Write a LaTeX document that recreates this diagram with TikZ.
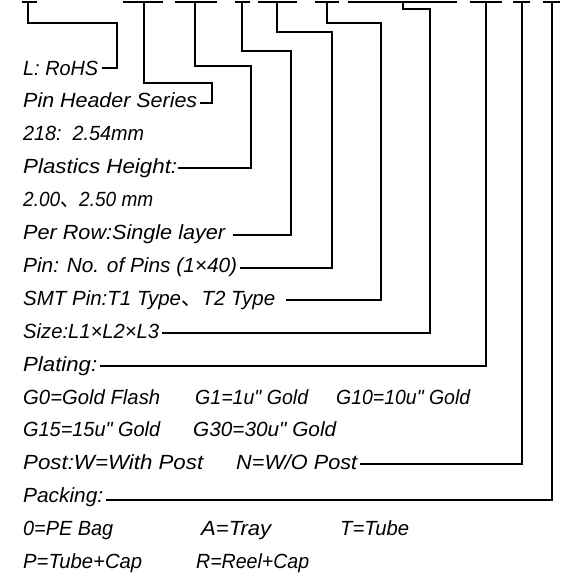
\documentclass[tikz,border=0pt]{standalone}
\usepackage{fontspec}
\usepackage{graphicx}
\newfontfamily\isofont{Liberation Sans}
\newfontfamily\cjk{Noto Sans CJK SC}
\newcommand{\lblfont}{\isofont\itshape\fontsize{20.5}{22}\selectfont}
\newcommand{\fw}[2]{\resizebox{#1pt}{\height}{#2}}
\begin{document}
\begin{tikzpicture}[x=1pt,y=-1pt,
  lbl/.style={anchor=base west, inner sep=0pt, font=\lblfont},
  wire/.style={line width=1.8pt, line join=miter, line cap=butt},
]
\useasboundingbox (0,0) rectangle (580,574);
% ---- texts
\node[lbl] (t0) at (23,75) {\fw{75}{L: RoHS}};
\node[lbl] (t1) at (23,107.9) {\fw{174}{Pin Header Series}};
\node[lbl] (t2) at (23,140.8) {\fw{121}{218:\ \ 2.54mm}};
\node[lbl] (t3) at (23,173.7) {\fw{154}{Plastics Height:}};
\node[lbl] (t4) at (23,206.6) {\fw{130}{2.00{\cjk 、}2.50 mm}};
\node[lbl] (t5) at (23,239.5) {\fw{202}{Per Row:Single layer}};
\node[lbl] (t6) at (23,272.4) {\fw{214}{Pin: No. of Pins (1×40)}};
\node[lbl] (t7) at (23,305.3) {\fw{252}{SMT Pin:T1 Type{\cjk 、}T2 Type}};
\node[lbl] (t8) at (23,338.2) {\fw{136}{Size:L1×L2×L3}};
\node[lbl] (t9) at (23,371.1) {\fw{74}{Plating:}};
\node[lbl] (t10a) at (23,404) {\fw{137}{G0=Gold Flash}};
\node[lbl] (t10b) at (195,404) {\fw{113}{G1=1u" Gold}};
\node[lbl] (t10c) at (336,404) {\fw{134}{G10=10u" Gold}};
\node[lbl] (t11a) at (23,436.9) {\fw{137}{G15=15u" Gold}};
\node[lbl] (t11b) at (193,436.9) {\fw{143}{G30=30u" Gold}};
\node[lbl] (t12a) at (23,469.8) {\fw{180}{Post:W=With Post}};
\node[lbl] (t12b) at (236,469.8) {\fw{121}{N=W/O Post}};
\node[lbl] (t13) at (23,502.7) {\fw{80}{Packing:}};
\node[lbl] (t14a) at (23,535.6) {\fw{90}{0=PE Bag}};
\node[lbl] (t14b) at (201,535.6) {\fw{70}{A=Tray}};
\node[lbl] (t14c) at (340,535.6) {\fw{69}{T=Tube}};
\node[lbl] (t15a) at (23,568.5) {\fw{119}{P=Tube+Cap}};
\node[lbl] (t15b) at (196,568.5) {\fw{113}{R=Reel+Cap}};
% ---- top code segments
\foreach \a/\b in {22/37,123/163,175/217,235/250,258/297,315/339,348/457,470/502,513/530,543/560}
  \draw[wire] (\a,2) -- (\b,2);
% ---- tap points, bends, ends
\coordinate (tap1) at (28,2);   \coordinate (bend1) at (117,23);  \coordinate (end1) at (102,68);
\coordinate (tap2) at (144,2);  \coordinate (bend2) at (212,83);  \coordinate (end2) at (200,103);
\coordinate (tap3) at (195,2);  \coordinate (bend3) at (251,66);  \coordinate (end3) at (178,168);
\coordinate (tap4) at (242,2);  \coordinate (bend4) at (291,51);  \coordinate (end4) at (233,235);
\coordinate (tap5) at (277,2);  \coordinate (bend5) at (332,32);  \coordinate (end5) at (240,268);
\coordinate (tap6) at (327,2);  \coordinate (bend6) at (381,23);  \coordinate (end6) at (286,300);
\coordinate (tap7) at (403,2);  \coordinate (bend7) at (430,9);   \coordinate (end7) at (162,333);
\coordinate (tap8) at (486,2);  \coordinate (end8) at (100,366);
\coordinate (tap9) at (522,2);  \coordinate (end9) at (360,464);
\coordinate (tap10) at (552,2); \coordinate (end10) at (106,500);
\foreach \i in {1,...,7}
  \draw[wire] (tap\i) |- (bend\i) |- (end\i);
\foreach \i in {8,9,10}
  \draw[wire] (tap\i) |- (end\i);
\end{tikzpicture}
\end{document}
